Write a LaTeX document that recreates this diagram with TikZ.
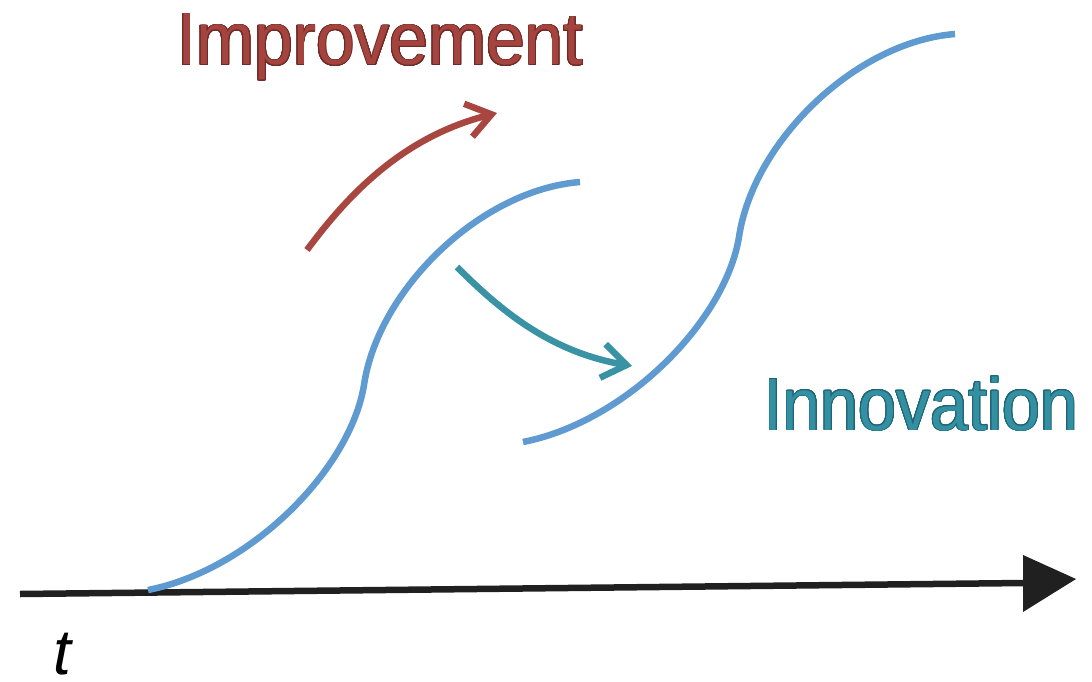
\documentclass[tikz,border=0pt]{standalone}
\usepackage{fontspec}
\setmainfont{Liberation Sans}
\usepackage[copies]{contour}
\contourlength{0.9pt}
\contournumber{24}
\usetikzlibrary{arrows.meta}
\definecolor{sblue}{HTML}{5F9AD0}
\definecolor{ared}{HTML}{A8473F}
\definecolor{ateal}{HTML}{3A93A5}
\definecolor{tred}{HTML}{A5443E}
\definecolor{tredd}{HTML}{6E2A26}
\definecolor{tteal}{HTML}{3390A2}
\definecolor{tteald}{HTML}{1F6573}
\definecolor{axisc}{HTML}{202020}
\tikzset{
  scurve/.style={draw=sblue, line width=6.5pt, line cap=butt},
  bentarrow/.style={line width=6.5pt, line cap=butt, -{Straight Barb[length=24pt,width=34pt,line width=6.5pt]}},
  axisline/.style={draw=axisc, line width=6.5pt},
  label/.style={inner sep=0pt, font=\fontsize{74}{80}\selectfont},
}
\begin{document}
\begin{tikzpicture}[x=1pt,y=-1pt]
\useasboundingbox (0,0) rectangle (1092,682);
% axis
\coordinate (a0) at (20,594);
\coordinate (a1) at (1024,583);
\coordinate (tb1) at (1023,555);
\coordinate (tb2) at (1023,612);
\coordinate (tip) at (1076,579);
\draw[axisline] (a0) -- (a1);
\fill[axisc] (tb1) -- (tip) -- (tb2) -- cycle;
\node[inner sep=0pt, font=\fontsize{64}{66}\selectfont\itshape, anchor=base] (t) at (62,674) {t};
% S-curve 1
\coordinate (s1a) at (148,590);
\coordinate (s1m) at (364,385);
\coordinate (s1b) at (580,182);
\draw[scurve] (s1a) .. controls (250,570) and (350,470) .. (s1m)
  .. controls (378,290) and (480,190) .. (s1b);
% S-curve 2 (shifted copy)
\begin{scope}[shift={(375,-148)}]
\coordinate (s2a) at (148,590);
\coordinate (s2m) at (364,385);
\coordinate (s2b) at (580,182);
\draw[scurve] (s2a) .. controls (250,570) and (350,470) .. (s2m)
  .. controls (378,290) and (480,190) .. (s2b);
\end{scope}
% arrows
\coordinate (r0) at (307,250);
\coordinate (r1) at (497,113);
\draw[bentarrow, ared] (r0) .. controls (355,185) and (410,135) .. (r1);
\coordinate (g0) at (457,267);
\coordinate (g1) at (632,366);
\draw[bentarrow, ateal] (g0) .. controls (500,310) and (550,352) .. (g1);
% labels
\node[label, text=tred, anchor=base] (impr) at (380,65) {\scalebox{0.94}[1]{\contour{tredd}{Improvement}}};
\node[label, text=tteal, anchor=base] (innov) at (921,430) {\scalebox{0.92}[1]{\contour{tteald}{Innovation}}};
\end{tikzpicture}
\end{document}
